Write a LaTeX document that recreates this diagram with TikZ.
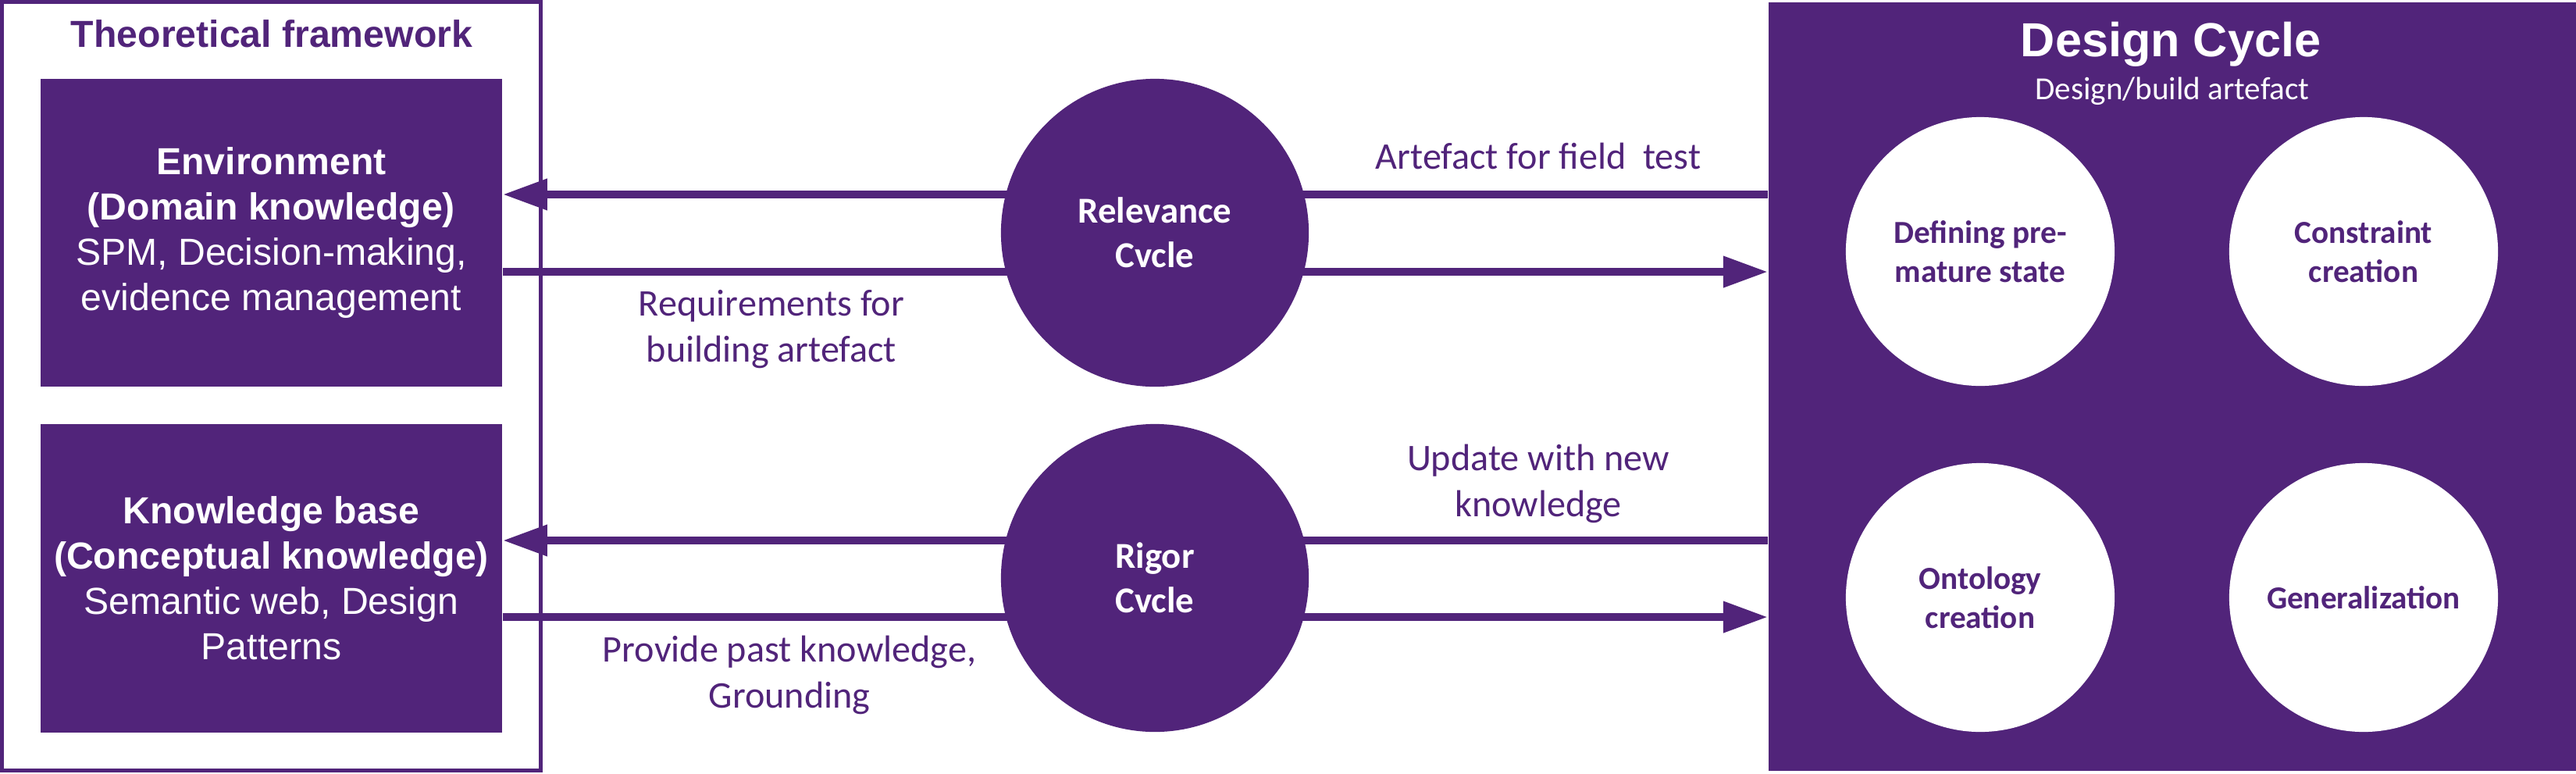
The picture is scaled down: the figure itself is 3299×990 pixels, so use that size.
\documentclass[tikz,border=0pt]{standalone}
\usepackage{fontspec}
\setmainfont{Carlito}
\newfontfamily\arialfont{Liberation Sans}
\usetikzlibrary{positioning, calc, arrows.meta, backgrounds}
\definecolor{uqviolet}{HTML}{51247A}

\begin{document}
\begin{tikzpicture}[
  x=0.01cm, y=-0.01cm,
  boite/.style={fill=uqviolet, text=white, align=center, inner sep=0pt,
                minimum width=5.91cm, minimum height=3.94cm,
                font=\arialfont\fontsize{13.7}{16.5}\selectfont},
  boucle/.style={circle, fill=uqviolet, text=white, align=center,
                 inner sep=0pt, minimum size=3.94cm,
                 font=\bfseries\fontsize{13.3}{16.2}\selectfont},
  etape/.style={circle, fill=white, text=uqviolet, align=center,
                inner sep=0pt, minimum size=3.44cm,
                font=\bfseries\fontsize{11.7}{14.2}\selectfont},
  legende/.style={text=uqviolet, align=center,
                  font=\fontsize{13.7}{16.8}\selectfont},
  fleche/.style={uqviolet, line width=0.1cm,
                 -{Triangle[length=5.7mm, width=3.8mm]}},
  trait/.style={uqviolet, line width=0.1cm}
]
  \useasboundingbox (0,0) rectangle (3299,990);

  %=========================================================
  % 1. Cadre theorique : environnement et base de connaissances
  %=========================================================
  \node[draw=uqviolet, line width=0.05cm, minimum width=6.89cm,
        minimum height=9.83cm] (cadre) at (347.5,494.5) {};
  \node[text=uqviolet, font=\arialfont\bfseries\fontsize{13.7}{16.5}\selectfont]
    (titre) at (348,43) {Theoretical framework};

  \node[boite] (env) at (347.5,298)
    {\textbf{Environment}\\\textbf{(Domain knowledge)}\\
     SPM, Decision-making,\\evidence management};
  \node[boite] (kb) at (347.5,740.5)
    {\textbf{Knowledge base}\\\textbf{(Conceptual knowledge)}\\
     Semantic web, Design\\Patterns};

  %=========================================================
  % 2. Cycle de conception et ses quatre etapes
  %=========================================================
  \node[fill=uqviolet, inner sep=0pt, minimum width=10.34cm,
        minimum height=9.84cm] (dc) at (2782,495) {};
  \node[text=white, font=\arialfont\bfseries\fontsize{17.4}{20}\selectfont]
    (dctitre) at (2780,57) {Design Cycle};
  \node[text=white, font=\fontsize{11.7}{14}\selectfont]
    (dcsous) at (2782,117) {Design/build artefact};

  \node[etape] (def) at (2536,322) {Defining pre-\\mature state};
  \node[etape] (con) at (3027,322) {Constraint\\creation};
  \node[etape] (ont) at (2536,765) {Ontology\\creation};
  \node[etape] (gen) at (3027,765) {Generalization};

  %=========================================================
  % 3. Cycles de pertinence et de rigueur
  %=========================================================
  \node[boucle] (rel) at (1479,298) {Relevance\\Cvcle};
  \node[boucle] (rig) at (1479,740) {Rigor\\Cvcle};

  \begin{scope}[on background layer]
    \draw[fleche] ([yshift=0.49cm]env.east -| dc.west) -- ([yshift=0.49cm]env.east);
    \draw[fleche] ([yshift=-0.50cm]env.east) -- ([yshift=-0.50cm]env.east -| dc.west);
    \draw[fleche] ([yshift=0.485cm]kb.east -| dc.west) -- ([yshift=0.485cm]kb.east);
    \draw[fleche] ([yshift=-0.495cm]kb.east) -- ([yshift=-0.495cm]kb.east -| dc.west);
  \end{scope}

  \node[legende] (l1) at (1970,200) {Artefact for field\ \ test};
  \node[legende] (l2) at (988,422) {Requirements for\\building artefact};
  \node[legende] (l3) at (1970,619) {Update with new\\knowledge};
  \node[legende] (l4) at (1011,864) {Provide past knowledge,\\Grounding};

\end{tikzpicture}
\end{document}
